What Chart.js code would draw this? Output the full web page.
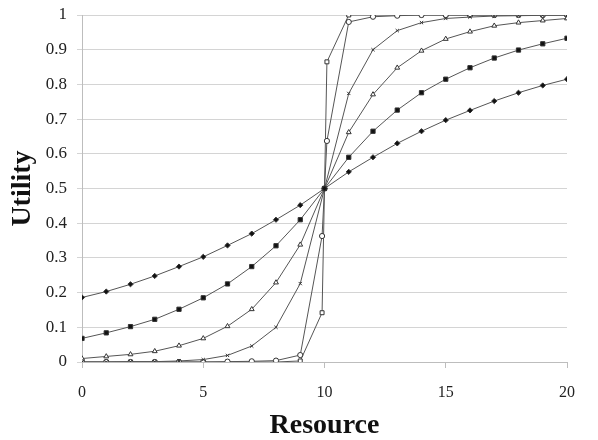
<!DOCTYPE html>
<html lang="en">
<head>
<meta charset="UTF-8">
<title>Utility vs Resource</title>
<script src="https://cdn.jsdelivr.net/npm/chart.js"></script>
<style>
  html, body { margin: 0; padding: 0; background: #fff; }
  #wrap { width: 598px; height: 440px; }
</style>
</head>
<body>
<div id="wrap"><canvas id="utilityChart"></canvas></div>
<script>
// resource levels (x)
const resource = [0, 1, 2, 3, 4, 5, 6, 7, 8, 9, 10, 11, 12, 13, 14, 15, 16, 17, 18, 19, 20];
// the two steepest curves also have points just either side of 10
const resourceFine = [0, 1, 2, 3, 4, 5, 6, 7, 8, 9, 9.9, 10, 10.1, 11, 12, 13, 14, 15, 16, 17, 18, 19, 20];

// utility values
const utilDiamond = [0.186, 0.203, 0.224, 0.248, 0.275, 0.303, 0.336, 0.370, 0.410, 0.452, 0.500,
                     0.548, 0.590, 0.630, 0.665, 0.697, 0.725, 0.752, 0.776, 0.797, 0.815];
const utilSquare = [0.068, 0.084, 0.102, 0.123, 0.152, 0.185, 0.225, 0.275, 0.335, 0.410, 0.500,
                    0.590, 0.665, 0.726, 0.776, 0.815, 0.848, 0.876, 0.899, 0.917, 0.933];
const utilTriangle = [0.010, 0.016, 0.022, 0.031, 0.047, 0.068, 0.103, 0.152, 0.229, 0.338, 0.500,
                      0.662, 0.771, 0.848, 0.897, 0.931, 0.952, 0.969, 0.978, 0.984, 0.990];
const utilCross = [0.000, 0.000, 0.001, 0.001, 0.003, 0.007, 0.019, 0.046, 0.100, 0.226, 0.500,
                   0.774, 0.900, 0.955, 0.978, 0.990, 0.994, 0.997, 0.998, 0.999, 1.000];
const utilCircle = [0, 0, 0, 0, 0, 0, 0.001, 0.002, 0.004, 0.020, 0.363, 0.500, 0.637,
                    0.980, 0.995, 0.998, 1, 1, 1, 1, 1, 1, 1];
const utilOpenSquare = [0, 0, 0, 0, 0, 0, 0, 0, 0, 0.003, 0.142, 0.500, 0.865,
                        1, 1, 1, 1, 1, 1, 1, 1, 1, 1];

const xTicks = [0, 5, 10, 15, 20];
const yTicks = [0, 0.1, 0.2, 0.3, 0.4, 0.5, 0.6, 0.7, 0.8, 0.9, 1];

const lineColor = '#555';
const serif = "'Liberation Serif', 'Times New Roman', serif";

function toPoints(xs, ys) {
    return xs.map((x, i) => ({ x: x, y: ys[i] }));
}

function series(label, xs, ys, style, radius, filled) {
    return {
        label: label,
        data: toPoints(xs, ys),
        showLine: true,
        borderColor: lineColor,
        borderWidth: 1,
        pointStyle: style,
        pointRadius: radius,
        pointBorderColor: '#333',
        pointBorderWidth: 1,
        pointBackgroundColor: filled ? '#111' : '#fff',
        tension: 0
    };
}

const datasets = [
    series('Diamond', resource, utilDiamond, 'rectRot', 2.6, true),
    series('Square', resource, utilSquare, 'rect', 3, true),
    series('Triangle', resource, utilTriangle, 'triangle', 2.8, false),
    series('Cross', resource, utilCross, 'crossRot', 2.3, false),
    series('Circle', resourceFine, utilCircle, 'circle', 2.6, false),
    series('Open square', resourceFine, utilOpenSquare, 'rect', 2.8, false)
];

new Chart(document.getElementById('utilityChart'), {
    type: 'scatter',
    data: { datasets: datasets },
    options: {
        responsive: true,
        maintainAspectRatio: false,
        animation: false,
        layout: { padding: { top: 15, right: 31, left: 0, bottom: 0 } },
        plugins: { legend: { display: false }, tooltip: { enabled: false } },
        scales: {
            x: {
                type: 'linear',
                min: 0,
                max: 20,
                afterBuildTicks: s => { s.ticks = xTicks.map(v => ({ value: v })); },
                afterFit: s => { s.height = 78; },
                grid: { drawOnChartArea: false, color: '#bdbdbd', tickLength: 6 },
                border: { color: '#bdbdbd' },
                ticks: { color: '#222', padding: 15, font: { family: serif, size: 16 } },
                title: {
                    display: true,
                    text: 'Resource',
                    color: '#111',
                    padding: { top: 0, bottom: -3 },
                    font: { family: serif, size: 28, weight: 'bold' }
                }
            },
            y: {
                min: 0,
                max: 1,
                afterBuildTicks: s => { s.ticks = yTicks.map(v => ({ value: v })); },
                afterFit: s => { s.width = 82; s.paddingTop = 0; s.paddingBottom = 0; },
                grid: { color: '#d4d4d4', tickLength: 5 },
                border: { color: '#bdbdbd' },
                ticks: {
                    color: '#222',
                    padding: 10,
                    font: { family: serif, size: 17 },
                    callback: v => String(+v.toFixed(1))
                },
                title: {
                    display: true,
                    text: 'Utility',
                    color: '#111',
                    padding: { top: 6, bottom: 0 },
                    font: { family: serif, size: 28, weight: 'bold' }
                }
            }
        }
    }
});
</script>
</body>
</html>
